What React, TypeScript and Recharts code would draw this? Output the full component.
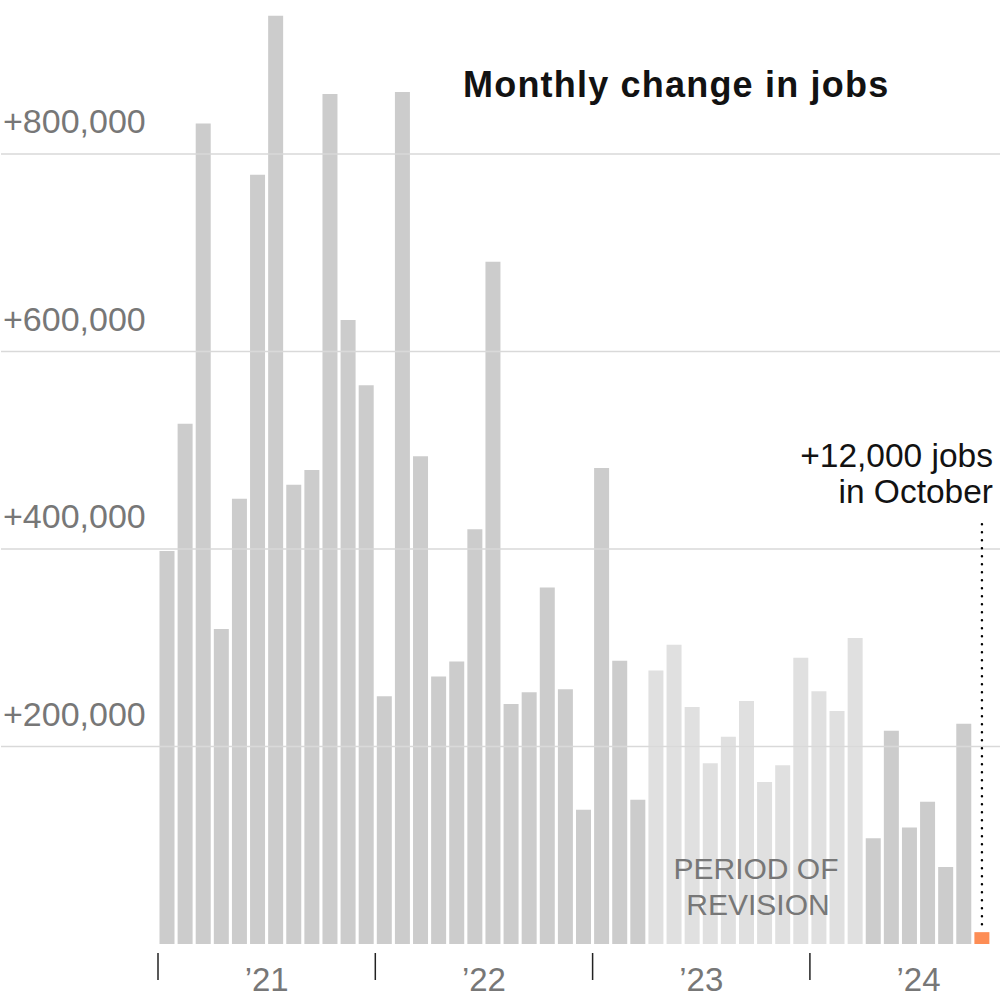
import React from "react";
import { BarChart, Bar, XAxis, YAxis, Cell, ReferenceLine } from "recharts";

const months: string[] = [
  "2021-01","2021-02","2021-03","2021-04","2021-05","2021-06","2021-07","2021-08","2021-09","2021-10","2021-11","2021-12",
  "2022-01","2022-02","2022-03","2022-04","2022-05","2022-06","2022-07","2022-08","2022-09","2022-10","2022-11","2022-12",
  "2023-01","2023-02","2023-03","2023-04","2023-05","2023-06","2023-07","2023-08","2023-09","2023-10","2023-11","2023-12",
  "2024-01","2024-02","2024-03","2024-04","2024-05","2024-06","2024-07","2024-08","2024-09","2024-10",
];

const jobsChange: number[] = [
  398000, 527000, 831000, 319000, 451000, 779000, 940000, 465000, 480000, 861000, 632000, 566000,
  251000, 863000, 494000, 271000, 286000, 420000, 691000, 243000, 255000, 361000, 258000, 136000,
  482000, 287000, 146000, 277000, 303000, 240000, 183000, 210000, 246000, 164000, 181000, 290000,
  256000, 236000, 310000, 107000, 216000, 118000, 144000, 78000, 223000, 12000,
];

const status: string[] = [
  "a","a","a","a","a","a","a","a","a","a","a","a",
  "a","a","a","a","a","a","a","a","a","a","a","a",
  "a","a","a","r","r","r","r","r","r","r","r","r",
  "r","r","r","a","a","a","a","a","a","latest",
];

const yTicks: number[] = [200000, 400000, 600000, 800000];
const yearLabels: Record<string, string> = { "2021": "’21", "2022": "’22", "2023": "’23", "2024": "’24" };

const COLORS: Record<string, string> = { a: "#cccccc", r: "#e0e0e0", latest: "#fd8d55" };

const data = months.map((m, i) => ({ m, v: jobsChange[i], s: status[i] }));

const W = 1000;
const H = 1000;
const PAD_L = 157;
const PAD_R = 9;
const STEP = (W - 1 - PAD_L - PAD_R) / months.length;
const FONT = "'Liberation Sans', Arial, sans-serif";

const fmt = (v: number) => "+" + v.toLocaleString("en-US");

const YTick = (props: any) => {
  const { y, payload } = props;
  return (
    <text x={3} y={y - 21} fontSize={34} fill="#777" fontFamily={FONT} textAnchor="start">
      {fmt(payload.value)}
    </text>
  );
};

const XTick = (props: any) => {
  const { x, y, payload } = props;
  const [yr, mo] = String(payload.value).split("-");
  const left = x - STEP / 2;
  if (mo === "01") {
    return <line x1={left} x2={left} y1={y + 9} y2={y + 36} stroke="#222" strokeWidth={1.5} />;
  }
  if (mo === "07") {
    return (
      <text x={left} y={y + 47} fontSize={33} fill="#777" fontFamily={FONT} textAnchor="middle">
        {yearLabels[yr]}
      </text>
    );
  }
  return null;
};

export default function App() {
  return (
    <div style={{ position: "absolute", left: 0, top: 0, width: W, height: H, background: "#fff" }}>
      <BarChart
        width={W}
        height={H}
        data={data}
        margin={{ top: 6, right: 0, bottom: 0, left: 0 }}
        barCategoryGap={1.5}
      >
        {yTicks.map((t) => (
          <ReferenceLine key={t} y={t} stroke="#d9d9d9" strokeWidth={1.5} />
        ))}
        <XAxis
          dataKey="m"
          interval={0}
          padding={{ left: PAD_L, right: PAD_R }}
          axisLine={false}
          tickLine={false}
          tickSize={0}
          tickMargin={0}
          height={56}
          tick={<XTick />}
        />
        <YAxis
          width={1}
          domain={[0, 950000]}
          ticks={yTicks}
          interval={0}
          axisLine={false}
          tickLine={false}
          tick={<YTick />}
        />
        <Bar dataKey="v" isAnimationActive={false}>
          {data.map((d, i) => (
            <Cell key={i} fill={COLORS[d.s]} />
          ))}
        </Bar>
        <ReferenceLine
          segment={[{ x: "2024-10", y: 20000 }, { x: "2024-10", y: 430000 }]}
          stroke="#000"
          strokeWidth={2.5}
          strokeLinecap="round"
          strokeDasharray="0 8"
        />
      </BarChart>
      <svg width={W} height={H} style={{ position: "absolute", left: 0, top: 0, pointerEvents: "none" }}>
        <text x={463} y={97} fontSize={36} fontWeight="bold" letterSpacing={1.2} fill="#121212" fontFamily={FONT}>
          Monthly change in jobs
        </text>
        <text x={993} y={467} fontSize={33.5} fill="#121212" fontFamily={FONT} textAnchor="end">
          +12,000 jobs
        </text>
        <text x={993} y={503} fontSize={33.5} fill="#121212" fontFamily={FONT} textAnchor="end">
          in October
        </text>
        <text x={756} y={879} fontSize={30} fill="#777" fontFamily={FONT} textAnchor="middle">
          PERIOD OF
        </text>
        <text x={758} y={915} fontSize={30} fill="#777" fontFamily={FONT} textAnchor="middle">
          REVISION
        </text>
      </svg>
    </div>
  );
}
